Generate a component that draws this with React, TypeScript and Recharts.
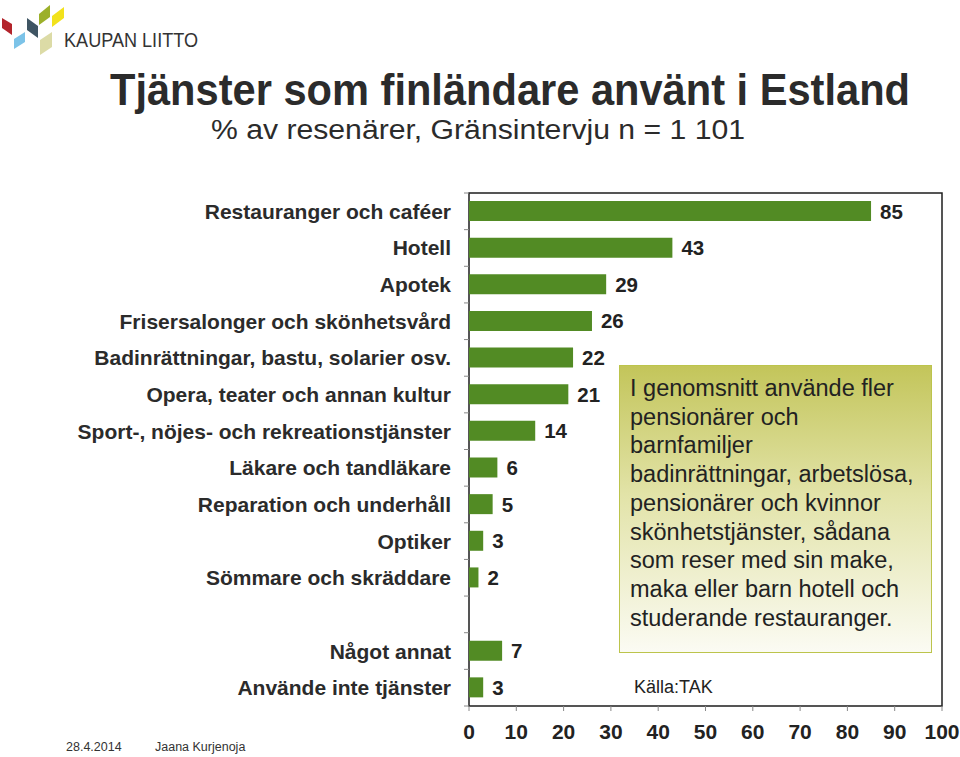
import { BarChart, Bar, XAxis, YAxis, ReferenceArea, LabelList } from 'recharts';

const categories = [
  'Restauranger och caféer',
  'Hotell',
  'Apotek',
  'Frisersalonger och skönhetsvård',
  'Badinrättningar, bastu, solarier osv.',
  'Opera, teater och annan kultur',
  'Sport-, nöjes- och rekreationstjänster',
  'Läkare och tandläkare',
  'Reparation och underhåll',
  'Optiker',
  'Sömmare och skräddare',
  ' ',
  'Något annat',
  'Använde inte tjänster',
];

const shares: (number | null)[] = [85, 43, 29, 26, 22, 21, 14, 6, 5, 3, 2, null, 7, 3];

const xTicks = [0, 10, 20, 30, 40, 50, 60, 70, 80, 90, 100];

const noteLines = [
  'I genomsnitt använde fler',
  'pensionärer och',
  'barnfamiljer',
  'badinrättningar, arbetslösa,',
  'pensionärer och kvinnor',
  'skönhetstjänster, sådana',
  'som reser med sin make,',
  'maka eller barn hotell och',
  'studerande restauranger.',
];

const chartData = categories.map((name, i) => ({ name, value: shares[i] }));

const FONT = "'Liberation Sans', Arial, Helvetica, sans-serif";
const BAND = (706 - 193) / categories.length;

function CategoryTick(props: any) {
  const { x, y, payload, index } = props;
  const last = index === categories.length - 1;
  return (
    <g>
      <line x1={x - 5} x2={x} y1={y - BAND / 2} y2={y - BAND / 2} stroke="#888" />
      {last && <line x1={x - 5} x2={x} y1={y + BAND / 2} y2={y + BAND / 2} stroke="#888" />}
      <text
        x={x - 18}
        y={y}
        textAnchor="end"
        dominantBaseline="central"
        fontFamily={FONT}
        fontWeight="bold"
        fontSize={21}
        fill="#2b2b2b"
      >
        {payload.value}
      </text>
    </g>
  );
}

function ValueLabel(props: any) {
  const { x, y, width, height, value } = props;
  if (value == null) return null;
  return (
    <text
      x={x + width + 9}
      y={y + height / 2}
      dominantBaseline="central"
      fontFamily={FONT}
      fontWeight="bold"
      fontSize={20.5}
      fill="#222"
    >
      {value}
    </text>
  );
}

function Header() {
  return (
    <svg width={960} height={150} style={{ position: 'absolute', left: 0, top: 0 }}>
      {/* logo */}
      <polygon points="2,18 12,24 12,35 2,28" fill="#b3242b" />
      <polygon points="14,39 25,32 25,42 14,49" fill="#7cc3e8" />
      <polygon points="27,18 38,26 38,38 27,30" fill="#3f5563" />
      <polygon points="39,14 50,5 50,17 39,25" fill="#9cb02a" />
      <polygon points="52,16 64,7 64,18 52,27" fill="#f2e21c" />
      <polygon points="40,40 52,32 52,47 40,55" fill="#dcdba6" />
      <text x={64} y={47} fontFamily={FONT} fontSize={20} fill="#333" textLength={134} lengthAdjust="spacingAndGlyphs">
        KAUPAN LIITTO
      </text>
      <g transform="translate(110,105) scale(1,1.2)">
        <text
          x={0}
          y={0}
          fontFamily={FONT}
          fontWeight="bold"
          fontSize={37}
          fill="#2b2b2b"
          textLength={800}
          lengthAdjust="spacingAndGlyphs"
        >
          Tjänster som finländare använt i Estland
        </text>
      </g>
      <text
        x={211}
        y={139}
        fontFamily={FONT}
        fontSize={27}
        fill="#2b2b2b"
        textLength={534}
        lengthAdjust="spacingAndGlyphs"
      >
        % av resenärer, Gränsintervju n = 1 101
      </text>
    </svg>
  );
}

export default function App() {
  return (
    <div style={{ position: 'absolute', left: 0, top: 0, width: 960, height: 757, background: '#fff', overflow: 'hidden' }}>
      <Header />

      <div style={{ position: 'absolute', left: 0, top: 0 }}>
        <BarChart
          width={960}
          height={757}
          data={chartData}
          layout="vertical"
          margin={{ top: 193, right: 18, bottom: 0, left: 0 }}
        >
          <XAxis
            type="number"
            domain={[0, 100]}
            ticks={xTicks}
            height={51}
            axisLine={false}
            tickSize={5}
            tickMargin={13}
            tickLine={{ stroke: '#888' }}
            tick={{ fontFamily: FONT, fontWeight: 'bold', fontSize: 21, fill: '#222' }}
            interval={0}
          />
          <YAxis
            type="category"
            dataKey="name"
            width={469}
            axisLine={false}
            tickLine={false}
            tickSize={0}
            tickMargin={0}
            interval={0}
            tick={<CategoryTick />}
          />
          <ReferenceArea x1={0} x2={100} fill="none" stroke="#1e1e1e" strokeWidth={1.5} ifOverflow="visible" />
          <Bar dataKey="value" fill="#528b24" barSize={20} isAnimationActive={false}>
            <LabelList dataKey="value" content={<ValueLabel />} />
          </Bar>
        </BarChart>
      </div>

      <div
        style={{
          position: 'absolute',
          left: 619,
          top: 365,
          width: 313,
          height: 288,
          border: '1.5px solid #bcc44c',
          background: 'linear-gradient(to bottom, #c3c55a 0%, #e2e3a8 45%, #fbfbf3 100%)',
          boxSizing: 'border-box',
          padding: '8px 0 0 10px',
          fontFamily: FONT,
          fontSize: 23.5,
          lineHeight: '28.7px',
          color: '#222',
          whiteSpace: 'nowrap',
        }}
      >
        {noteLines.map((line) => (
          <div key={line}>{line}</div>
        ))}
      </div>

      <div style={{ position: 'absolute', left: 634, top: 677, fontFamily: FONT, fontSize: 18, color: '#222' }}>
        Källa:TAK
      </div>

      <div style={{ position: 'absolute', left: 66, top: 740, fontFamily: FONT, fontSize: 12.5, color: '#333' }}>
        28.4.2014
      </div>
      <div style={{ position: 'absolute', left: 155, top: 740, fontFamily: FONT, fontSize: 12.5, color: '#333' }}>
        Jaana Kurjenoja
      </div>
    </div>
  );
}
